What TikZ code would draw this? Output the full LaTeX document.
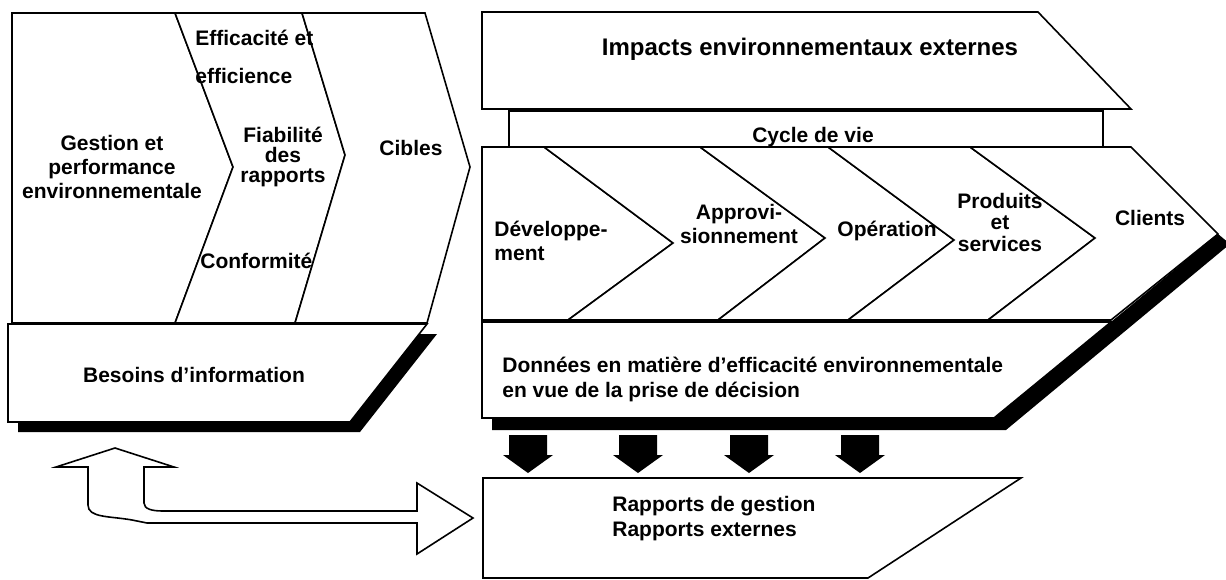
\documentclass[tikz,border=0pt]{standalone}
\usepackage{fontspec}
\setmainfont{Liberation Sans}

\tikzset{
  pane/.style={draw, fill=white, line width=0.8pt, line join=miter},
  dark/.style={fill=black},
  txt/.style={inner sep=0pt, font=\bfseries\fontsize{10.5}{12}\selectfont},
}

\begin{document}
\begin{tikzpicture}[x=0.5pt, y=-0.5pt]
	\useasboundingbox (0,0) rectangle (1226,579);

	% left block: management chevrons
	\draw[pane] (12,13) -- (175,13) -- (233,167) -- (175,323) -- (12,323) -- cycle;
	\draw[pane] (175,13) -- (302,13) -- (345,155) -- (295,323) -- (175,323) -- (233,167) -- cycle;
	\draw[pane] (302,13) -- (425,13) -- (470,167) -- (427,323) -- (295,323) -- (345,155) -- cycle;

	\node[txt, align=center] (gestion) at (112,167) {Gestion et\\performance\\environnementale};
	\node[txt, anchor=base west] (effic) at (195,45) {Efficacité et};
	\node[txt, anchor=base west] (effic2) at (195,83) {efficience};
	\node[txt, align=center, font=\bfseries\fontsize{10.5}{10}\selectfont] (fiab) at (283,157) {Fiabilité\\des\\rapports};
	\node[txt, anchor=base west] (conf) at (200,268) {Conformité};
	\node[txt, anchor=base] (cibles) at (411,155) {Cibles};

	% information needs
	\fill[dark] (18,334) -- (437,334) -- (360,432) -- (18,432) -- cycle;
	\draw[pane] (8,324) -- (427,324) -- (350,422) -- (8,422) -- cycle;
	\node[txt, anchor=base] (besoins) at (194,382) {Besoins d’information};

	% two-way block arrow
	\draw[pane] (115,448) -- (174,467) -- (144,467) -- (144,503)
		.. controls (144,509) and (152,511) .. (163,511) -- (417,511) -- (417,483)
		-- (473,518) -- (417,554) -- (417,523) -- (147,523) -- (132,520)
		.. controls (110,516) and (88,518) .. (88,505) -- (88,467) -- (56,467) -- cycle;

	% external impacts and life cycle
	\draw[pane] (482,12) -- (1038,12) -- (1131,109) -- (482,109) -- cycle;
	\node[txt, anchor=base, font=\bfseries\fontsize{12}{14}\selectfont] (impacts) at (810,55) {Impacts environnementaux externes};
	\draw[pane] (509,111) rectangle (1103,147);
	\node[txt, anchor=base] (cycle) at (813,142) {Cycle de vie};

	% decision data
	\fill[dark] (1218,234) -- (1230,244) -- (1006,430) -- (492,430) -- (492,418) -- (994,418) -- cycle;
	\draw[pane] (482,322) -- (1111,322) -- (994,418) -- (482,418) -- cycle;
	\node[txt, align=left, anchor=west, font=\bfseries\fontsize{10.5}{12.5}\selectfont] (donnees) at (502,379)
		{Données en matière d’efficacité environnementale\\en vue de la prise de décision};

	% life cycle chevrons
	\draw[pane] (482,147) -- (544,147) -- (673,243) -- (568,320) -- (482,320) -- cycle;
	\draw[pane] (544,147) -- (700,147) -- (825,238) -- (718,320) -- (568,320) -- (673,243) -- cycle;
	\draw[pane] (700,147) -- (828,147) -- (954,240) -- (848,320) -- (718,320) -- (825,238) -- cycle;
	\draw[pane] (828,147) -- (970,147) -- (1095,238) -- (988,320) -- (848,320) -- (954,240) -- cycle;
	\draw[pane] (970,147) -- (1131,147) -- (1218,234) -- (1111,320) -- (988,320) -- (1095,238) -- cycle;

	\node[txt, align=left, anchor=west] (dev) at (494,241) {Développe-\\ment};
	\node[txt, align=center] (appro) at (739,224) {Approvi-\\sionnement};
	\node[txt, anchor=base] (oper) at (887,236) {Opération};
	\node[txt, align=center, font=\bfseries\fontsize{10.5}{10.75}\selectfont] (prod) at (1000,222) {Produits\\et\\services};
	\node[txt, anchor=base] (clients) at (1150,225) {Clients};

	% block arrows down
	\foreach \ax in {528,638,749,860}
		\fill[dark] (\ax-19,435) -- (\ax+19,435) -- (\ax+19,455) -- (\ax+25,455)
			-- (\ax,473) -- (\ax-25,455) -- (\ax-19,455) -- cycle;

	% reports
	\draw[pane] (483,478) -- (1021,478) -- (868,578) -- (483,578) -- cycle;
	\node[txt, align=left, anchor=west, font=\bfseries\fontsize{10.5}{12.5}\selectfont] (rapports) at (612,519)
		{Rapports de gestion\\Rapports externes};
\end{tikzpicture}
\end{document}
